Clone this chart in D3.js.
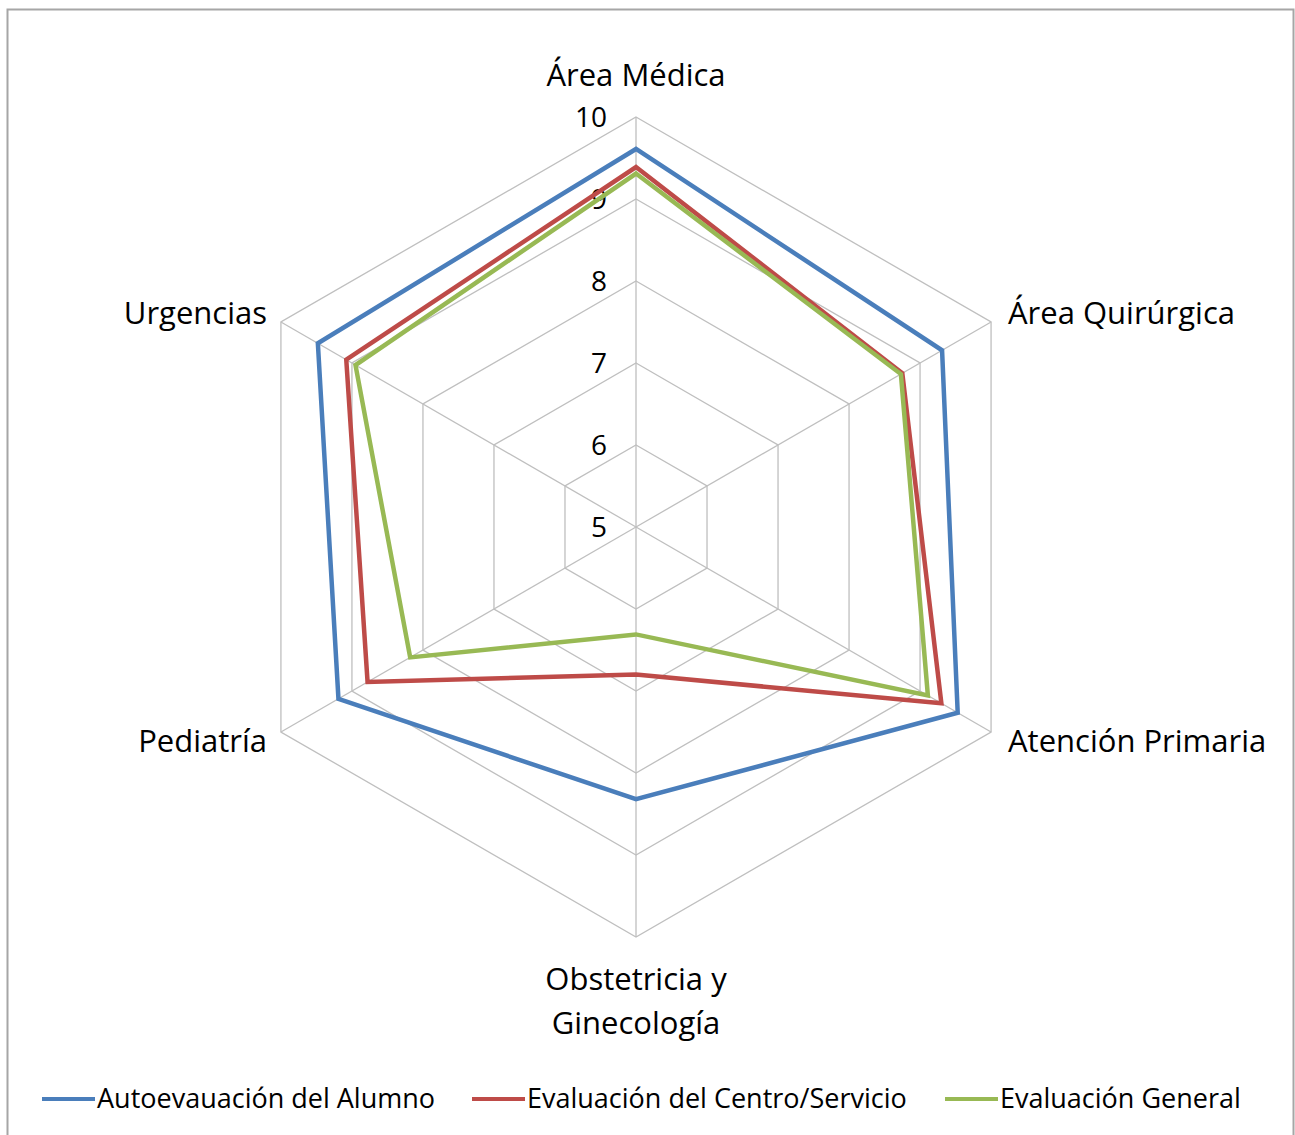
<!DOCTYPE html>
<html>
<head>
<meta charset="utf-8">
<script src="https://cdn.jsdelivr.net/npm/d3@7"></script>
<style>
  body { margin: 0; background: #fff; }
  svg text { font-family: "Open Sans", sans-serif; fill: #000; }
</style>
</head>
<body>
<svg id="chart" width="1295" height="1135"></svg>
<script>
// categories, clockwise from the top
const categories = ["Área Médica", "Área Quirúrgica", "Atención Primaria", "Obstetricia y Ginecología", "Pediatría", "Urgencias"];
const seriesNames = ["Autoevauación del Alumno", "Evaluación del Centro/Servicio", "Evaluación General"];
const autoevaluacion = [9.61, 9.31, 9.53, 8.32, 9.19, 9.48];
const centroServicio = [9.39, 8.75, 9.30, 6.80, 8.78, 9.08];
const general = [9.31, 8.73, 9.11, 6.31, 8.18, 8.95];
const ticks = [5, 6, 7, 8, 9, 10];

const colors = ["#4a7ebb", "#be4b48", "#98b954"];
const series = [autoevaluacion, centroServicio, general];

const cx = 636, cy = 527, R = 410;
const svg = d3.select("#chart");

// outer frame
svg.append("rect")
  .attr("x", 7.5).attr("y", 9.5)
  .attr("width", 1286).attr("height", 1135)
  .attr("fill", "none")
  .attr("stroke", "#a6a6a6")
  .attr("stroke-width", 2);

const r = d3.scaleLinear().domain([5, 10]).range([0, R]);
const angle = d3.scalePoint().domain(d3.range(categories.length)).range([0, 2 * Math.PI * 5 / 6]);

const pt = (i, v) => {
  const a = angle(i);
  return [cx + r(v) * Math.sin(a), cy - r(v) * Math.cos(a)];
};

const g = svg.append("g");

// grid rings
ticks.slice(1).forEach(t => {
  g.append("path")
    .attr("d", d3.line()(categories.map((c, i) => pt(i, t))) + "Z")
    .attr("fill", "none")
    .attr("stroke", "#bfbfbf")
    .attr("stroke-width", 1.3);
});

// spokes
categories.forEach((c, i) => {
  const [x, y] = pt(i, 10);
  g.append("line")
    .attr("x1", cx).attr("y1", cy).attr("x2", x).attr("y2", y)
    .attr("stroke", "#bfbfbf")
    .attr("stroke-width", 1.3);
});

// tick labels
g.selectAll(".tick")
  .data(ticks)
  .join("text")
  .attr("x", cx - 29)
  .attr("y", d => cy - r(d))
  .attr("dy", "0.35em")
  .attr("text-anchor", "end")
  .attr("font-size", 28)
  .text(d => d);

// series
series.forEach((s, k) => {
  g.append("path")
    .attr("d", d3.line()(s.map((v, i) => pt(i, v))) + "Z")
    .attr("fill", "none")
    .attr("stroke", colors[k])
    .attr("stroke-width", 4.5)
    .attr("stroke-linejoin", "miter");
});

// category labels
const labelPos = [
  { x: cx, y: 75, anchor: "middle" },
  { x: 1008, y: 313, anchor: "start" },
  { x: 1008, y: 741, anchor: "start" },
  { x: cx, y: 979, anchor: "middle" },
  { x: 267, y: 741, anchor: "end" },
  { x: 267, y: 313, anchor: "end" }
];
categories.forEach((c, i) => {
  const p = labelPos[i];
  const lines = i === 3 ? ["Obstetricia y", "Ginecología"] : [c];
  const t = g.append("text")
    .attr("text-anchor", p.anchor)
    .attr("font-size", 31);
  lines.forEach((l, j) => {
    t.append("tspan")
      .attr("x", p.x)
      .attr("y", p.y + j * 44)
      .attr("dy", "0.35em")
      .text(l);
  });
});

// legend
const legendX = [42, 472, 945];
seriesNames.forEach((n, k) => {
  const lg = svg.append("g").attr("transform", `translate(${legendX[k]},1099)`);
  lg.append("line")
    .attr("x1", 0).attr("x2", 53)
    .attr("stroke", colors[k])
    .attr("stroke-width", 4);
  lg.append("text")
    .attr("x", 55)
    .attr("dy", "0.35em")
    .attr("font-size", 27)
    .text(n);
});
</script>
</body>
</html>
